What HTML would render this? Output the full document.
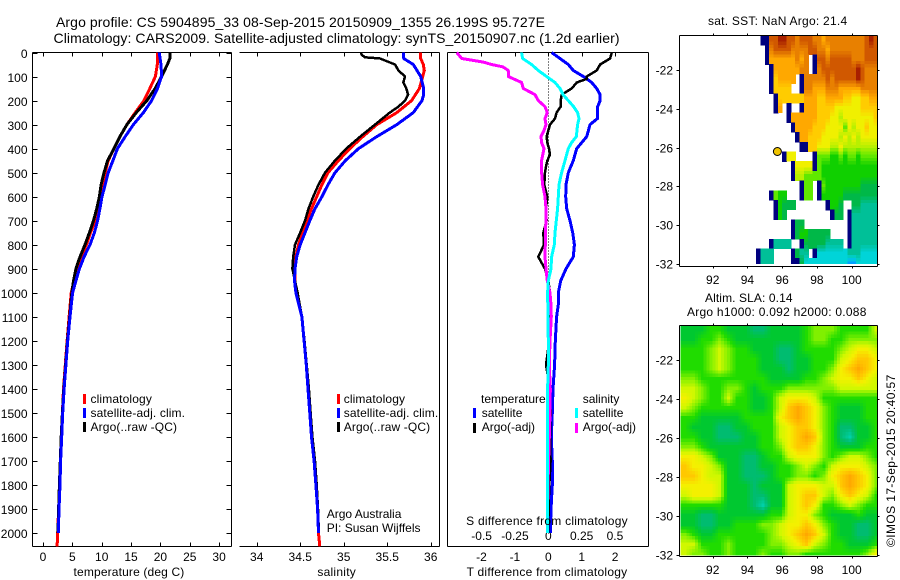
<!DOCTYPE html>
<html lang="en">
<head>
<meta charset="utf-8">
<title>Argo profile chart</title>
<style>
html,body{margin:0;padding:0;background:#fff;}
svg{display:block;}
text{font-family:"Liberation Sans",sans-serif;font-size:12px;fill:#000;letter-spacing:0.25px;}
#series text{letter-spacing:0;}
.legend-wide text{letter-spacing:0.13px;}
.plain{letter-spacing:0;}
.legend-plain text{letter-spacing:0;}
</style>
</head>
<body>
<svg id="chart" xmlns="http://www.w3.org/2000/svg" width="900" height="580" viewBox="0 0 900 580">
  <defs>
    <clipPath id="clip-sst"><rect x="680" y="35" width="197.5" height="229"/></clipPath>
    <clipPath id="clip-sla"><rect x="680.5" y="326" width="197" height="229.5"/></clipPath>
  </defs>
  <text x="56" y="27" style="font-size:14px;letter-spacing:0" textLength="489">Argo profile: CS 5904895_33 08-Sep-2015 20150909_1355 26.199S 95.727E</text>
  <text x="53.5" y="43" style="font-size:14px;letter-spacing:0" textLength="566">Climatology: CARS2009. Satellite-adjusted climatology: synTS_20150907.nc (1.2d earlier)</text>

  <g id="maps"></g>
  <g id="axes" shape-rendering="crispEdges"></g>
  <g id="series"></g>

  <text x="129" y="576" text-anchor="middle" style="letter-spacing:0.15px">temperature (deg C)</text>
  <text x="336.7" y="576" text-anchor="middle">salinity</text>
  <text x="547" y="576" text-anchor="middle">T difference from climatology</text>
  <text x="547" y="525" text-anchor="middle">S difference from climatology</text>

  <g class="legend-wide" shape-rendering="crispEdges">
    <rect x="83" y="394" width="3" height="10" fill="#ff0000"/>
    <rect x="83" y="408" width="3" height="10" fill="#0000ff"/>
    <rect x="83" y="422" width="3" height="10" fill="#000000"/>
    <text x="90.5" y="403">climatology</text>
    <text x="90.5" y="417">satellite-adj. clim.</text>
    <text x="90.5" y="431">Argo(..raw -QC)</text>
  </g>
  <g class="legend-wide" shape-rendering="crispEdges">
    <rect x="337" y="394" width="3" height="10" fill="#ff0000"/>
    <rect x="337" y="408" width="3" height="10" fill="#0000ff"/>
    <rect x="337" y="422" width="3" height="10" fill="#000000"/>
    <text x="343.7" y="403">climatology</text>
    <text x="343.7" y="417">satellite-adj. clim.</text>
    <text x="343.7" y="431">Argo(..raw -QC)</text>
  </g>
  <text class="plain" x="326.7" y="518">Argo Australia</text>
  <text class="plain" x="326.7" y="532">PI: Susan Wijffels</text>

  <g class="legend-plain" shape-rendering="crispEdges">
    <text x="481" y="403">temperature</text>
    <rect x="473" y="408" width="3" height="10" fill="#0000ff"/>
    <text x="481.7" y="417">satellite</text>
    <rect x="473" y="423" width="3" height="10" fill="#000000"/>
    <text x="481.7" y="431">Argo(-adj)</text>
    <text x="582.7" y="403">salinity</text>
    <rect x="575" y="408" width="3" height="10" fill="#00ffff"/>
    <text x="582.7" y="417">satellite</text>
    <rect x="575" y="423" width="3" height="10" fill="#ff00ff"/>
    <text x="582.7" y="431">Argo(-adj)</text>
  </g>

  <text x="708" y="25">sat. SST: NaN Argo: 21.4</text>
  <text x="705" y="302" style="letter-spacing:0.1px">Altim. SLA: 0.14</text>
  <text x="687" y="316">Argo h1000: 0.092 h2000: 0.088</text>
  <text transform="translate(895,547) rotate(-90)" style="letter-spacing:0.4px">©IMOS 17-Sep-2015 20:40:57</text>
</svg>
<script>
// ---------- chart data ----------
const depthTicks = [0,100,200,300,400,500,600,700,800,900,1000,1100,1200,1300,1400,1500,1600,1700,1800,1900,2000];
const tempTicks = [0,5,10,15,20,25,30];
const salTicks = [34,34.5,35,35.5,36];
const dtTicks = [-2,-1,0,1,2];
const dsTicks = [-0.5,-0.25,0,0.25,0.5];
const lonTicks = [92,94,96,98,100];
const latTicks = [22,24,26,28,30,32];

const deepDepths = [1100,1200,1300,1400,1500,1600,1700,1800,1900,2000];

const tempDepths = [0,50,100,150,200,250,300,350,400,450,500,550,600,650,700,750,800,850,900,950,1000].concat(deepDepths);
const tempClimDepths = tempDepths.concat([2055]);
const tempArgoDepths = [0,25].concat(tempDepths.slice(1));
const tempClim = [19.53,19.48,19.14,18.2,17.2,15.7,14.3,13.1,12.1,11.1,10.6,10.2,9.8,9.5,8.9,8.1,7.4,6.5,5.9,5.3,4.8,4.45,4.1,3.8,3.5,3.3,3.1,2.95,2.8,2.65,2.5,2.4];
const tempSat = [19.8,20.1,20.2,19.5,18.5,17.1,15.4,14,12.7,11.9,11.1,10.6,10.05,9.7,9.3,8.75,8,7,6.2,5.6,5.05,4.6,4.2,3.9,3.6,3.35,3.18,3.0,2.9,2.73,2.6];
const tempArgo = [21.6,21.6,21.2,20.2,19.1,17.7,15.9,14.3,13.1,12.1,11.0,10.4,9.9,9.6,9.15,8.6,7.9,7.15,6.3,5.6,5.2,4.9,4.55,4.15,3.85,3.55,3.3,3.1,2.95,2.8,2.65,2.55];

const salMid = [250,300,350,400,450,500,550,600,650,700,750,800,850,900,950,1000];
const salClimDepths = [0,25,50,75,100,150,200].concat(salMid,deepDepths,[2055]);
const salSatDepths = [0,25,50,100,150,175,200].concat(salMid,deepDepths);
const salArgoDepths = [0,10,20,25,50,75,100,125,150,175,200,225].concat(salMid,deepDepths);
const salClim = [35.885,35.885,35.915,35.927,35.908,35.87,35.78,35.61,35.38,35.22,35.07,34.94,34.82,34.75,34.69,34.63,34.575,34.53,34.48,34.45,34.44,34.44,34.45,34.52,34.545,34.57,34.59,34.61,34.63,34.66,34.68,34.70,34.71,34.725];
const salSat = [35.69,35.69,35.80,35.885,35.92,35.92,35.9,35.80,35.61,35.38,35.17,35.02,34.90,34.82,34.75,34.67,34.61,34.555,34.50,34.46,34.44,34.435,34.45,34.52,34.545,34.57,34.59,34.61,34.63,34.66,34.68,34.70,34.71];
const salArgo = [35.20,35.207,35.245,35.417,35.59,35.63,35.705,35.685,35.72,35.74,35.705,35.63,35.53,35.36,35.19,35.03,34.90,34.785,34.71,34.65,34.595,34.555,34.50,34.44,34.42,34.41,34.44,34.47,34.52,34.55,34.575,34.6,34.62,34.64,34.67,34.69,34.705,34.715];

const diffUpper = [0,25,50,75,100,125,150,175,200,225,250,275,300,325,350,400,450,500,550,600,650,700,750,800,850,900,950,1000,1050];
const diffDepths = diffUpper.concat(deepDepths);
const dtSat = [0.10,0.35,0.60,0.75,1.05,1.30,1.45,1.55,1.55,1.48,1.47,1.47,1.25,1.20,1.15,0.85,0.75,0.60,0.53,0.52,0.55,0.65,0.73,0.78,0.75,0.53,0.37,0.30,0.30,0.25,0.21,0.19,0.14,0.12,0.09,0.12,0.12,0.08,0.06];
const dtArgoDepths = [0,25,50,75,100,110,125,150,175,200,225,250,275,300,325,350,375,400,425,450,475,500,550,600,650,700,750,800,850,875,900,950,1000,1050].concat(deepDepths);
const dtArgo = [1.9,1.85,1.55,1.45,1.15,1.15,0.85,0.70,0.40,0.37,0.37,0.25,0.2,0.05,0,-0.05,-0.03,0.02,0.05,-0.03,-0.07,-0.1,-0.12,-0.03,-0.07,-0.05,-0.15,-0.13,-0.3,-0.2,-0.1,0,0.05,0.05,0.05,0.03,-0.07,0.05,0.07,0.05,0.07,0.03,0.01,0];
const dsSatDepths = [0,25,50,75,100,125,150,175,200,225,250,275,300,350,375,400,450,500,550,600,650,700,750,800,850,900,950,1000].concat(deepDepths);
const dsSat = [-0.2,-0.193,-0.125,-0.075,-0.013,0.05,0.0875,0.11,0.15,0.19,0.22,0.23,0.22,0.21,0.175,0.15,0.125,0.10,0.08,0.075,0.07,0.06,0.05,0.045,0.025,0.02,0,-0.005,-0.002,0,0,-0.005,-0.007,-0.007,-0.007,-0.007,-0.007,-0.007];
const dsArgoDepths = [0,25,40,50,60,75,100,125,150,175,200,225,250,275,300,325,350,375,400,450,500,550,600,650,700,750,800,850,900,950,1000,1050].concat(deepDepths);
const dsArgo = [-0.6875,-0.65,-0.4875,-0.425,-0.34,-0.30,-0.30,-0.20,-0.1875,-0.10,-0.075,-0.025,-0.0075,-0.025,-0.0175,-0.0325,-0.055,-0.05,-0.0325,-0.05,-0.05,-0.0425,-0.025,-0.0175,-0.0175,-0.0225,-0.0225,-0.025,-0.0175,-0.0075,0.0125,0.02,0.0225,0.0125,0.0075,0.015,0.0125,0.0075,0.0025,-0.0025,-0.005,-0.005];

// Map colour classes (0 = land-edge navy, 13 = hottest); _ = no data
const _ = null;
const sstLon0 = [94.5];
const sstLat0 = [20.2];
const sstGrid = [
[_,0,0,12,12,13,13,12,12,11,12,12,12,11,11,10,11,11,11,11,11,11,11,11,11,12,13,12],
[_,_,0,11,12,12,12,12,11,11,11,11,12,12,11,11,10,11,11,11,11,11,11,11,11,12,12,12],
[_,_,0,10,10,10,10,10,10,11,10,11,_,0,12,12,11,12,12,12,12,12,11,11,11,12,12,12],
[_,_,_,0,10,10,10,10,10,10,11,11,_,0,11,12,12,12,12,12,12,12,12,13,12,11,11,11],
[_,_,_,0,9,10,10,10,10,_,0,11,11,11,11,11,12,11,12,12,12,12,12,13,12,11,11,11],
[_,_,_,0,9,9,9,9,_,_,0,11,11,10,10,10,11,11,11,10,10,10,10,10,11,11,11,11],
[_,_,_,_,0,9,9,9,9,9,9,10,10,10,9,9,10,10,10,10,9,9,8,8,9,9,10,10],
[_,_,_,_,0,10,_,0,_,_,0,10,10,10,9,9,9,9,8,8,8,8,8,8,9,9,9,9],
[_,_,_,_,_,_,_,0,10,10,10,10,10,10,9,9,9,8,8,7,8,8,8,8,8,8,8,9],
[_,_,_,_,_,_,_,_,0,10,10,10,10,9,9,9,8,8,8,8,6,8,7,8,8,9,8,8],
[_,_,_,_,_,_,_,_,_,0,10,10,9,9,9,8,8,8,8,7,8,7,8,7,8,8,8,8],
[_,_,_,_,_,_,_,_,_,_,0,0,9,9,8,8,8,7,7,8,7,7,7,7,7,7,7,7],
[_,_,_,_,_,_,0,8,8,_,_,_,_,0,6,6,6,5,5,6,5,6,6,5,6,6,6,6],
[_,_,_,_,_,_,_,_,0,8,8,8,8,0,6,5,5,5,5,5,5,5,5,5,5,5,5,5],
[_,_,_,_,_,_,_,_,0,7,7,6,6,6,6,5,5,5,5,5,5,5,5,5,5,5,5,5],
[_,_,_,_,_,_,_,_,_,_,0,6,6,_,0,6,5,5,5,5,5,5,5,5,4,4,4,4],
[_,_,_,0,6,5,5,_,_,_,0,6,6,_,0,5,5,5,5,5,4,4,4,4,4,4,4,4],
[_,_,_,_,0,5,4,4,4,_,_,_,_,_,_,_,0,5,5,4,_,_,4,4,3,3,3,3],
[_,_,_,_,0,5,4,_,_,_,_,_,_,_,_,_,_,0,4,4,_,0,3,3,3,3,3,3],
[_,_,_,_,_,_,_,_,0,4,4,_,_,_,_,_,_,_,_,_,_,0,3,3,3,3,3,3],
[_,_,_,_,_,_,_,_,0,4,5,5,4,4,4,4,4,_,_,_,_,0,3,3,3,3,3,3],
[_,_,_,0,3,3,3,3,_,_,0,4,4,4,4,4,3,3,3,3,_,0,3,3,3,3,3,3],
[0,3,3,3,_,_,_,_,0,4,3,3,_,0,2,2,2,2,2,2,2,3,3,3,2,2,2,2],
[0,3,3,3,_,_,_,_,0,0,4,2,2,2,2,2,2,2,2,2,2,1,1,2,2,2,2,2]
];
const slaLon0 = [90.15];
const slaLat0 = [20.2];
const slaGrid = [
[4,4,4,5,5,4,4,4,3,3,4,4,4,4,5,6,6,6,5,5,5,5,7],
[4,4,5,5,6,5,4,4,4,4,4,4,4,4,5,6,6,5,5,6,6,6,6],
[5,5,5,6,7,6,5,5,4,4,4,3,3,4,5,5,5,5,6,7,8,8,7],
[5,5,5,6,7,6,5,5,5,4,4,3,3,4,4,5,5,5,7,8,9,9,8],
[5,5,5,6,7,6,5,5,5,4,4,4,3,4,4,5,5,6,8,9,10,9,8],
[6,6,5,5,5,5,5,5,5,5,4,4,4,4,5,5,6,7,8,8,9,8,7],
[7,7,6,5,5,6,6,5,4,5,5,5,6,6,6,6,6,6,7,7,7,7,7],
[8,7,6,5,5,7,5,5,4,4,5,7,8,8,8,7,5,5,5,5,5,5,5],
[7,6,5,5,5,5,5,5,4,4,5,7,9,10,9,8,6,5,4,4,4,5,5],
[5,5,4,4,4,4,4,5,5,5,5,8,9,10,9,8,6,5,4,4,4,5,5],
[5,4,4,4,3,3,4,4,5,5,5,7,8,9,9,8,6,5,3,3,4,4,5],
[5,5,4,4,3,3,3,4,4,5,5,7,8,9,10,9,6,5,3,2,4,4,5],
[6,6,5,4,4,4,4,4,4,5,5,6,8,9,9,8,6,5,4,4,4,5,5],
[8,8,7,6,4,4,4,3,3,4,5,5,7,8,8,8,6,5,6,7,7,6,5],
[9,8,8,7,6,4,4,3,3,4,4,5,5,6,7,6,5,7,8,8,8,7,6],
[9,9,8,7,7,4,4,3,3,3,4,5,5,6,6,5,6,8,9,10,9,8,6],
[8,8,8,8,7,4,4,4,3,4,4,4,7,8,8,8,7,7,9,10,9,8,6],
[7,8,8,8,7,4,4,4,3,3,4,4,7,8,9,9,7,6,8,9,8,7,5],
[5,5,5,5,5,4,4,4,3,2,4,4,7,8,9,8,5,5,6,7,6,5,5],
[4,4,3,3,4,4,4,4,4,4,5,5,7,8,8,6,5,4,4,4,5,4,4],
[4,4,3,3,4,4,5,5,5,6,6,7,8,8,9,8,6,5,4,4,3,3,4],
[6,5,4,4,5,5,5,5,5,5,6,7,8,9,10,9,7,5,4,4,3,3,4],
[7,7,5,5,5,6,5,5,5,5,6,6,7,8,9,7,6,5,5,4,4,4,5],
[7,6,6,5,5,6,5,5,5,6,5,5,6,6,5,5,5,5,5,5,5,6,8]
];
const argoPosition = [95.727,26.199];
const sstPalette = ['#00007f','#00a0ff','#00d4d8','#00c098','#00b848','#10d000','#60e800','#b8f000','#f0f000','#ffcc00','#ffa800','#e88000','#d05800','#a82000'];
const slaPalette = ['#00007f','#00a0ff','#00d0a8','#00bc70','#00c830','#20dc00','#80f000','#d0f800','#f4f000','#ffc800','#ffa800','#e88000','#d05800','#a82000'];

// ---------- scales ----------
const yDepth = d => 52.5 + 0.2403 * d;
const xTemp = t => 43 + 5.87 * t;
const xSal = s => 256.7 + 87 * (s - 34);
const xDT = v => 548.3 + 33.4 * v;
const xDS = v => 548.3 + 133.3 * v;
const xLon = l => 712.7 + 17.37 * (l - 92);
const ySst = l => 70 + 19.4 * (l - 22);
const ySla = l => 360 + 19.5 * (l - 22);

// ---------- helpers ----------
const NS = 'http://www.w3.org/2000/svg';
const axesG = document.getElementById('axes');
const seriesG = document.getElementById('series');
const mapsG = document.getElementById('maps');

function mk(tag, parent, attrs) {
  const e = document.createElementNS(NS, tag);
  for (const k in attrs) e.setAttribute(k, attrs[k]);
  parent.appendChild(e);
  return e;
}
function seg(x1, y1, x2, y2, name) {
  const l = mk('line', axesG, {x1: x1, y1: y1, x2: x2, y2: y2, stroke: '#000', 'stroke-width': 1});
  
  
  return l;
}
function label(x, y, str, anchor, name) {
  const t = mk('text', seriesG, {x: x, y: y, 'text-anchor': anchor});
  t.textContent = str;
  
  
  return t;
}
function profile(depths, values, xf, color, width, name) {
  const n = Math.min(depths.length, values.length);
  const pts = [];
  for (let i = 0; i < n; i++) pts.push(xf(values[i]).toFixed(1) + ',' + yDepth(depths[i]).toFixed(1));
  const p = mk('polyline', seriesG, {points: pts.join(' '), fill: 'none', stroke: color, 'stroke-width': width, 'shape-rendering': 'crispEdges', 'stroke-linejoin': 'round'});
  
  
}
function hexRgb(h) {
  return [parseInt(h.slice(1,3),16), parseInt(h.slice(3,5),16), parseInt(h.slice(5,7),16)];
}
function colorFor(v, pal) {
  if (v <= 0) return pal[0];
  const lo = Math.floor(v), hi = Math.min(lo + 1, pal.length - 1), f = v - lo;
  const a = hexRgb(pal[lo]), b = hexRgb(pal[hi]);
  return 'rgb(' + a.map((c, i) => Math.round(c + (b[i] - c) * f)).join(',') + ')';
}
// Shade a position inside a grid cell by blending the surrounding cells' values
function sampleGrid(grid, rf, cf) {
  const r0 = Math.floor(rf), c0 = Math.floor(cf);
  let sum = 0, wt = 0;
  [[r0, c0], [r0 + 1, c0], [r0, c0 + 1], [r0 + 1, c0 + 1]].forEach(p => {
    const row = grid[p[0]];
    if (!row) return;
    const v = row[p[1]];
    if (v === null || v === undefined || v === 0) return;
    const w = (1 - Math.abs(rf - p[0])) * (1 - Math.abs(cf - p[1]));
    sum += w * v;
    wt += w;
  });
  return wt > 0 ? sum / wt : 0;
}
function heatmap(grid, lon0, lat0, dLon, yf, clip, pal, subR, subC, name) {
  const g = mk('g', mapsG, {'clip-path': 'url(#' + clip + ')', 'shape-rendering': 'crispEdges'});
  
  
  grid.forEach((row, r) => row.forEach((v, c) => {
    if (v === null) return;
    const nr = v === 0 ? 1 : subR, nc = v === 0 ? 1 : subC;
    for (let i = 0; i < nr; i++) for (let j = 0; j < nc; j++) {
      const x0 = xLon(lon0 + dLon * (c + j / nc)), x1 = xLon(lon0 + dLon * (c + (j + 1) / nc));
      const y0 = yf(lat0 + 0.5 * (r + i / nr)), y1 = yf(lat0 + 0.5 * (r + (i + 1) / nr));
      const val = v === 0 ? 0 : sampleGrid(grid, r + (i + 0.5) / nr - 0.5, c + (nc === 1 ? 0 : (j + 0.5) / nc - 0.5));
      const cell = mk('rect', g, {x: x0.toFixed(1), y: y0.toFixed(1), width: (x1 - x0 + 0.6).toFixed(1), height: (y1 - y0 + 0.6).toFixed(1), fill: colorFor(val || v, pal)});
      
      
    }
  }));
}

// ---------- profile panel frames ----------
const top_ = 52.5, bot = 546.5;
// panel 1
seg(32.5, top_, 231.5, top_, 'temperature-top-axis');
seg(32.5, bot, 231.5, bot, 'temperature-bottom-axis');
seg(32.5, top_, 32.5, bot, 'temperature-left-axis');
seg(231.5, top_, 231.5, bot, 'temperature-right-axis');
// panel 2 (no left spine)
seg(239.5, top_, 439.5, top_, 'salinity-top-axis');
seg(239.5, bot, 439.5, bot, 'salinity-bottom-axis');
seg(439.5, top_, 439.5, bot, 'salinity-right-axis');
// panel 3
seg(447.5, top_, 648.5, top_, 'difference-top-axis');
seg(447.5, bot, 648.5, bot, 'difference-bottom-axis');
seg(447.5, top_, 447.5, bot, 'difference-left-axis');
seg(648.5, top_, 648.5, bot, 'difference-right-axis');

depthTicks.forEach(d => {
  const y = Math.round(yDepth(d)) + 0.5;
  seg(32.5, y, 37.5, y, 'depth-tick-left');
  seg(226.5, y, 231.5, y, 'depth-tick-right');
  label(27.5, Math.round(yDepth(d)) + 5, String(d), 'end', 'depth-tick-label');
});
tempTicks.forEach(t => {
  const x = Math.round(xTemp(t)) + 0.5;
  seg(x, top_, x, top_ + 4, 'temperature-tick-top');
  seg(x, bot - 4, x, bot, 'temperature-tick-bottom');
  label(xTemp(t), 561, String(t), 'middle', 'temperature-tick-label');
});
salTicks.forEach(s => {
  const x = Math.round(xSal(s)) + 0.5;
  seg(x, top_, x, top_ + 4, 'salinity-tick-top');
  seg(x, bot - 4, x, bot, 'salinity-tick-bottom');
  label(xSal(s), 561, String(s), 'middle', 'salinity-tick-label');
});
dtTicks.forEach(v => {
  const x = Math.round(xDT(v)) + 0.5;
  seg(x, top_, x, top_ + 4, 'difference-tick-top');
  label(xDT(v), 561, String(v), 'middle', 't-difference-tick-label');
});
dsTicks.forEach(v => {
  label(xDS(v), 540, String(v), 'middle', 's-difference-tick-label');
});

// zero reference line
const zero = mk('line', seriesG, {x1: 548.5, y1: top_, x2: 548.5, y2: 535, stroke: '#000', 'stroke-width': 1, 'stroke-dasharray': '1 2', 'shape-rendering': 'crispEdges'});



// ---------- series ----------
profile(tempClimDepths, tempClim, xTemp, '#ff0000', 3, 'temperature-climatology-line');
profile(tempArgoDepths, tempArgo, xTemp, '#000000', 3, 'temperature-argo-line');
profile(tempDepths, tempSat, xTemp, '#0000ff', 3, 'temperature-satellite-line');
profile(salClimDepths, salClim, xSal, '#ff0000', 3, 'salinity-climatology-line');
profile(salArgoDepths, salArgo, xSal, '#000000', 2.5, 'salinity-argo-line');
profile(salSatDepths, salSat, xSal, '#0000ff', 3, 'salinity-satellite-line');
profile(diffDepths, dtSat, xDT, '#0000ff', 3, 'difference-t-satellite-line');
profile(dtArgoDepths, dtArgo, xDT, '#000000', 2.5, 'difference-t-argo-line');
profile(dsArgoDepths, dsArgo, xDS, '#ff00ff', 3, 'difference-s-argo-line');
profile(dsSatDepths, dsSat, xDS, '#00ffff', 3, 'difference-s-satellite-line');

// ---------- maps ----------
heatmap(sstGrid, sstLon0[0], sstLat0[0], 0.25, ySst, 'clip-sst', sstPalette, 3, 1, 'sst-heatmap');
heatmap(slaGrid, slaLon0[0], slaLat0[0], 0.5, ySla, 'clip-sla', slaPalette, 3, 3, 'sla-heatmap');

const marker = mk('circle', seriesG, {cx: xLon(argoPosition[0]).toFixed(1), cy: ySst(argoPosition[1]).toFixed(1), r: 4, fill: '#f0c400', stroke: '#000', 'stroke-width': 1});



function mapFrame(t, b, yf, labelY, prefix) {
  const l = 679.5, r = 877.5;
  seg(l, t, r, t, prefix + '-map-top-axis');
  seg(l, b, r, b, prefix + '-map-bottom-axis');
  seg(l, t, l, b, prefix + '-map-left-axis');
  seg(r, t, r, b, prefix + '-map-right-axis');
  lonTicks.forEach(lon => {
    const x = Math.round(xLon(lon)) + 0.5;
    seg(x, t - 2, x, t, prefix + '-lon-tick-top');
    seg(x, b, x, b + 2, prefix + '-lon-tick-bottom');
    label(xLon(lon), labelY, String(lon), 'middle', prefix + '-lon-tick-label');
  });
  latTicks.forEach(lat => {
    const y = Math.round(yf(lat)) + 0.5;
    seg(l - 3, y, l, y, prefix + '-lat-tick-left');
    seg(r, y, r + 2, y, prefix + '-lat-tick-right');
    label(673, Math.round(yf(lat)) + 4.5, '-' + lat, 'end', prefix + '-lat-tick-label');
  });
}
mapFrame(35.5, 266.5, ySst, 284, 'sst');
mapFrame(325.5, 556.5, ySla, 574, 'sla');
</script>
</body>
</html>
